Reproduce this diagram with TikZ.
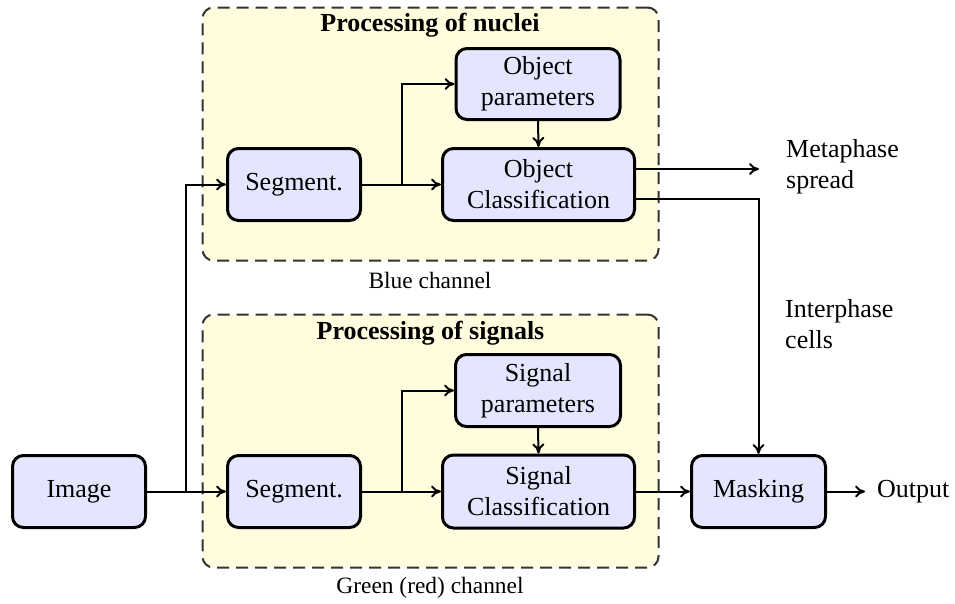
\documentclass[tikz,border=0pt]{standalone}
\usepackage{fontspec}
\setmainfont{Liberation Serif}
\usetikzlibrary{arrows.meta}
\begin{document}
\begin{tikzpicture}[x=1pt,y=-1pt,
 blk/.style={draw, line width=3pt, rounded corners=11pt, fill=blue!10, align=center, inner sep=0pt, font=\fontsize{26}{31}\selectfont},
 grp/.style={draw=black!80, dash pattern=on 12pt off 7pt, line width=2pt, rounded corners=11pt, fill=yellow!13, inner sep=0pt},
 arr/.style={-{To[length=10pt,width=12pt]}, line width=2pt},
 lbl/.style={font=\fontsize{26}{31}\selectfont, align=left, inner sep=0pt},
 ttl/.style={font=\fontsize{26}{31}\selectfont\bfseries, inner sep=0pt},
 captxt/.style={font=\fontsize{23.4}{28}\selectfont, inner sep=0pt}]
\useasboundingbox (0,0) rectangle (955,603);
% groups
\node[grp, minimum width=456pt, minimum height=253pt] (g1) at (430.5,134) {};
\node[grp, minimum width=456pt, minimum height=253pt] (g2) at (430.5,441) {};
\node[ttl] (t1) at (430,25) {Processing of nuclei};
\node[ttl] (t2) at (430.5,333) {Processing of signals};
\node[captxt] (c1) at (430,280) {Blue channel};
\node[captxt] (c2) at (430,588) {Green (red) channel};
% blocks
\node[blk, minimum width=133pt, minimum height=72pt] (img) at (79,491.5) {Image};
\node[blk, minimum width=133pt, minimum height=72pt] (seg1) at (294,184.5) {Segment.};
\node[blk, minimum width=164pt, minimum height=71pt] (op) at (538,84) {Object\\parameters};
\node[blk, minimum width=192pt, minimum height=72pt] (oc) at (538.5,184.5) {Object\\Classification};
\node[blk, minimum width=133pt, minimum height=72pt] (seg2) at (294,491.5) {Segment.};
\node[blk, minimum width=165pt, minimum height=72pt] (sp) at (538,390.5) {Signal\\parameters};
\node[blk, minimum width=192pt, minimum height=73pt] (sc) at (538.5,491.5) {Signal\\Classification};
\node[blk, minimum width=134pt, minimum height=72pt] (mask) at (758.5,491.5) {Masking};
% labels
\node[lbl, anchor=west] (meta) at (786,167) {Metaphase\\spread};
\node[lbl, anchor=west] (inter) at (785,324.5) {Interphase\\cells};
\node[lbl, anchor=west] (out) at (877,491.5) {Output};
% coordinates
\coordinate (j0) at (186,491.5);
\coordinate (b1) at (402,184.5);
\coordinate (b2) at (402,491.5);
\coordinate (mend) at (759,169);
\coordinate (oend) at (865,491.5);
% connectors
\draw[arr] (img.east) -- (seg2.west);
\draw[arr] (j0) |- (seg1.west);
\draw[arr] (seg1.east) -- (oc.west);
\draw[arr] (b1) |- (op.west);
\draw[arr] (op.south) -- (oc.north);
\draw[arr] ([yshift=15.5pt]oc.east) -- (mend);
\draw[arr] ([yshift=-14.5pt]oc.east) -| (mask.north);
\draw[arr] (seg2.east) -- (sc.west);
\draw[arr] (b2) |- (sp.west);
\draw[arr] (sp.south) -- (sc.north);
\draw[arr] (sc.east) -- (mask.west);
\draw[arr] (mask.east) -- (oend);
\end{tikzpicture}
\end{document}
